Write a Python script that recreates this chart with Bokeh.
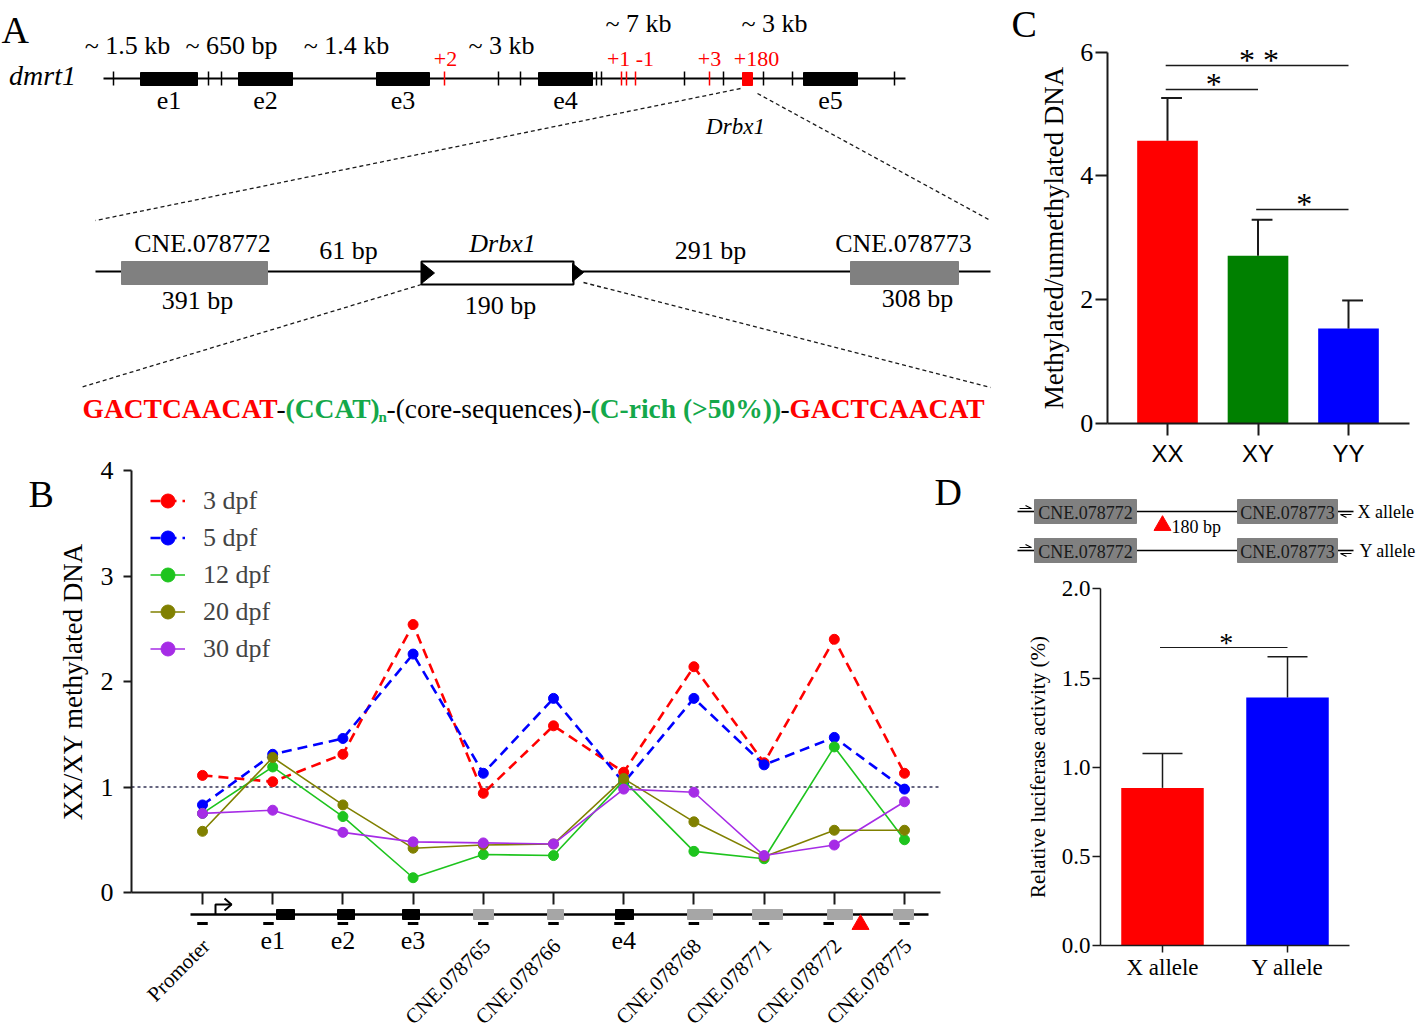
import math
from bokeh.plotting import figure
from bokeh.models import (Range1d, LinearAxis, FixedTicker, Legend, LegendItem,
                          PrintfTickFormatter, CustomJSTickFormatter)
from bokeh.layouts import row, column
from bokeh.core.properties import value
from bokeh.embed import file_html
from bokeh.resources import INLINE

# ---------------- data ----------------
B_sites = ["Promoter", "e1", "e2", "e3", "CNE.078765", "CNE.078766", "e4",
           "CNE.078768", "CNE.078771", "CNE.078772", "CNE.078775"]
B_series = ["3 dpf", "5 dpf", "12 dpf", "20 dpf", "30 dpf"]
dpf3 = [1.11, 1.05, 1.31, 2.54, 0.94, 1.58, 1.14, 2.14, 1.23, 2.40, 1.13]
dpf5 = [0.83, 1.31, 1.46, 2.26, 1.13, 1.84, 1.04, 1.84, 1.21, 1.47, 0.98]
dpf12 = [0.75, 1.19, 0.72, 0.14, 0.36, 0.35, 1.06, 0.39, 0.32, 1.38, 0.50]
dpf20 = [0.58, 1.28, 0.83, 0.42, 0.45, 0.46, 1.08, 0.67, 0.34, 0.59, 0.59]
dpf30 = [0.75, 0.78, 0.57, 0.48, 0.47, 0.46, 0.98, 0.95, 0.35, 0.45, 0.86]
B_ticks = [0, 1, 2, 3, 4]
B_ref = 1.0

C_groups = ["XX", "XY", "YY"]
C_mean = [4.57, 2.71, 1.53]
C_sem = [0.69, 0.58, 0.455]
C_ticks = [0, 2, 4, 6]
C_sig = [("XX", "XY", "*"), ("XX", "YY", "**"), ("XY", "YY", "*")]

D_groups = ["X allele", "Y allele"]
D_mean = [0.884, 1.391]
D_sem = [0.193, 0.228]
D_ticks = [0, 0.5, 1.0, 1.5, 2.0]
D_sig = [("X allele", "Y allele", "*")]

# ---------------- styles / helpers ----------------
SERIF = "Liberation Serif"
SANS = "Liberation Sans"
INK = "#1a1a1a"
RED = "#FF0000"
BLUE = "#0000FF"
GREEN_BAR = "#008000"
SEQ_GREEN = "#14A84A"

LEFT_W, RIGHT_W = 1008, 408
A_H, B_H = 440, 592
C_H, D_H = 478, 554


def canvas(w, h, xr, yr):
    p = figure(width=w, height=h, x_range=Range1d(*xr), y_range=Range1d(*yr),
               output_backend="svg", toolbar_location=None,
               x_axis_type=None, y_axis_type=None, min_border=0)
    p.outline_line_color = None
    return p


def txt(p, x, y, s, size, color="black", align="center", baseline="middle",
        style="normal", font=SERIF, angle=0.0):
    p.text(x=[x], y=[y], text=[s], text_font=value(font),
           text_font_size=value(f"{size}px"), text_color=color,
           text_align=value(align), text_baseline=value(baseline),
           text_font_style=value(style), angle=angle)


def make_axis(fixed, bounds, ticks, lw, tick_out, lab_size, standoff,
              font=SERIF, label=None, label_size=None, label_standoff=0,
              overrides=None, formatter=None):
    ax = LinearAxis(fixed_location=fixed, bounds=bounds,
                    ticker=FixedTicker(ticks=ticks))
    ax.axis_line_width = lw
    ax.axis_line_color = INK
    ax.major_tick_line_width = lw
    ax.major_tick_line_color = INK
    ax.major_tick_out = tick_out
    ax.major_tick_in = 0
    ax.minor_tick_out = 0
    ax.minor_tick_in = 0
    ax.major_label_text_font = font
    ax.major_label_text_font_size = f"{lab_size}px"
    ax.major_label_text_color = "black"
    ax.major_label_standoff = standoff
    if overrides is not None:
        ax.major_label_overrides = overrides
    if formatter is not None:
        ax.formatter = formatter
    if label:
        ax.axis_label = label
        ax.axis_label_text_font = SERIF
        ax.axis_label_text_font_size = f"{label_size}px"
        ax.axis_label_text_font_style = "normal"
        ax.axis_label_text_color = "black"
        ax.axis_label_standoff = label_standoff
    return ax


# ================= Panel A (diagram, page-pixel coordinates) =================
pA = canvas(LEFT_W, A_H, (0, LEFT_W), (A_H, 0))
A_exons = [("e1", 140, 197), ("e2", 238, 292), ("e3", 376, 429),
           ("e4", 538, 592), ("e5", 803, 857)]
A_ticks_black = [113, 208, 221, 498, 520, 596, 601, 684, 723, 763, 792, 894]
A_ticks_red = [444, 621, 626, 635, 709]
A_dist = [("~ 1.5 kb", 127, 45), ("~ 650 bp", 231, 45), ("~ 1.4 kb", 346, 45),
          ("~ 3 kb", 501, 45), ("~ 7 kb", 638, 23), ("~ 3 kb", 774, 23)]
A_red_labels = [("+2", 445, 58), ("+1 -1", 630, 58), ("+3", 709, 58), ("+180", 756, 58)]

txt(pA, 1, 29, "A", 38, align="left")
txt(pA, 42, 75, "dmrt1", 28, style="italic")
pA.segment(x0=[103], y0=[78], x1=[905], y1=[78], line_color="black", line_width=2)
pA.quad(left=[e[1] for e in A_exons], right=[e[2] for e in A_exons],
        top=[72] * 5, bottom=[85] * 5, fill_color="black", line_color="black")
pA.segment(x0=A_ticks_black, y0=[71] * len(A_ticks_black), x1=A_ticks_black,
           y1=[85] * len(A_ticks_black), line_color="black", line_width=1.5)
pA.segment(x0=A_ticks_red, y0=[71] * len(A_ticks_red), x1=A_ticks_red,
           y1=[85] * len(A_ticks_red), line_color=RED, line_width=1.5)
pA.quad(left=[742], right=[752], top=[72], bottom=[85], fill_color=RED, line_color=RED)
for name, l, r in A_exons:
    txt(pA, (l + r) / 2, 100, name, 26)
for s, x, y in A_dist:
    txt(pA, x, y, s, 26)
for s, x, y in A_red_labels:
    txt(pA, x, y, s, 22, color=RED)
txt(pA, 735, 126, "Drbx1", 23, style="italic")
# zoom dashed lines
pA.segment(x0=[740, 757, 421, 583], y0=[88, 93, 284, 282],
           x1=[95, 990, 80, 990], y1=[220, 220, 387, 387],
           line_color=INK, line_width=1.3, line_dash="4 3")
# second row
pA.segment(x0=[95], y0=[271], x1=[990], y1=[271], line_color="black", line_width=2)
pA.quad(left=[121, 850], right=[267, 958], top=[261, 261], bottom=[284, 284],
        fill_color="#808080", line_color="#808080")
pA.quad(left=[421], right=[573], top=[261], bottom=[284], fill_color="white",
        line_color="black", line_width=2)
pA.patches(xs=[[421, 434, 421], [572, 583, 572]], ys=[[262, 272.5, 283], [263, 272, 281]],
           fill_color="black", line_color="black")
txt(pA, 202, 243, "CNE.078772", 26)
txt(pA, 197, 300, "391 bp", 26)
txt(pA, 348, 250, "61 bp", 26)
txt(pA, 502, 243, "Drbx1", 26, style="italic")
txt(pA, 500, 305, "190 bp", 26)
txt(pA, 710, 250, "291 bp", 26)
txt(pA, 903, 243, "CNE.078773", 26)
txt(pA, 917, 298, "308 bp", 26)
# motif sequence
seq_parts = [(82, "GACTCAACAT", RED, "bold"), (276, "-", "black", "normal"),
             (285, "(CCAT)", SEQ_GREEN, "bold"), (386, "-(core-sequences)-", "black", "normal"),
             (590, "(C-rich (>50%))", SEQ_GREEN, "bold"), (780, "-", "black", "normal"),
             (789, "GACTCAACAT", RED, "bold")]
for x, s, c, st in seq_parts:
    txt(pA, x, 408, s, 27.5, color=c, align="left", style=st)
txt(pA, 378, 416, "n", 15, color=SEQ_GREEN, align="left", style="bold")

# ================= Panel B (line chart) =================
def bx(r):
    return (r - 202) / 70.2


def by(r):
    return (892 - r) / 105.5


pB = canvas(LEFT_W, B_H, (bx(0), bx(LEFT_W)), (by(A_H + B_H), by(A_H)))
xs = list(range(len(B_sites)))
yax = make_axis(bx(131), (0, 4), B_ticks, 2, 8, 26, 10,
                label="XX/XY methylated DNA", label_size=27, label_standoff=10)
pB.add_layout(yax, "left")
xax = make_axis(0, (bx(131), bx(940)), xs, 2, 12, 10, 2,
                formatter=CustomJSTickFormatter(code="return ''"))
pB.add_layout(xax, "below")

pB.segment(x0=[bx(131)], y0=[B_ref], x1=[bx(940)], y1=[B_ref],
           line_color="#333355", line_width=1.5, line_dash="3 3")

series = [(B_series[0], dpf3, RED, True), (B_series[1], dpf5, BLUE, True),
          (B_series[2], dpf12, "#1EC41E", False), (B_series[3], dpf20, "#808000", False),
          (B_series[4], dpf30, "#A62CE6", False)]
items = []
for name, ys, col, dashed in series:
    lr = pB.line(x=xs, y=ys, line_color=col, line_width=2.6 if dashed else 1.6,
                 line_dash="10 6" if dashed else "solid")
    sr = pB.scatter(x=xs, y=ys, size=10, fill_color=col, line_color=col)
    items.append(LegendItem(label=name, renderers=[lr, sr]))
leg = Legend(items=items, location=(150, A_H + B_H - 667), glyph_width=35, glyph_height=37,
             label_height=37, spacing=0, padding=0, margin=0, label_standoff=18,
             border_line_color=None, background_fill_alpha=0,
             label_text_font=SERIF, label_text_font_size="26px")
pB.add_layout(leg)

# gene schematic beneath the axis
g_y = by(914)
pB.segment(x0=[bx(190)], y0=[g_y], x1=[bx(928)], y1=[g_y], line_color="black", line_width=2.5)
sch_boxes = [(276, 294, "black"), (337, 354, "black"), (402, 419, "black"),
             (473, 493, "#A6A6A6"), (547, 563, "#A6A6A6"), (615, 633, "black"),
             (687, 712, "#A6A6A6"), (752, 782, "#A6A6A6"), (827, 852, "#A6A6A6"),
             (893, 913, "#A6A6A6")]
pB.quad(left=[bx(b[0]) for b in sch_boxes], right=[bx(b[1]) for b in sch_boxes],
        top=[by(909)] * len(sch_boxes), bottom=[by(919)] * len(sch_boxes),
        fill_color=[b[2] for b in sch_boxes], line_color=[b[2] for b in sch_boxes])
primer_off = [0, -0.06, 0, 0, 0, 0, -0.06, 0, 0, -0.08, 0]
pB.segment(x0=[i + o - 0.075 for i, o in zip(xs, primer_off)], y0=[by(923)] * len(xs),
           x1=[i + o + 0.075 for i, o in zip(xs, primer_off)], y1=[by(923)] * len(xs),
           line_color="black", line_width=3)
pB.scatter(x=[bx(860)], y=[by(924)], marker="triangle", size=17,
           fill_color=RED, line_color=RED)
pB.multi_line(xs=[[bx(215), bx(215), bx(231)], [bx(224), bx(231), bx(224)]],
              ys=[[by(914), by(904), by(904)], [by(898), by(904), by(910)]],
              line_color="black", line_width=2)
for i, s in enumerate(B_sites):
    if len(s) <= 2:
        txt(pB, i, by(940), s, 26)
    else:
        txt(pB, i + 0.05, by(942), s, 21, align="right", angle=math.pi / 4)
txt(pB, bx(28), by(493), "B", 38, align="left")
txt(pB, bx(934), by(491), "D", 38, align="left")

# ================= Panel C (bar chart) =================
def cx(r):
    return (r - 1167) / 90.5


def cy(r):
    return (422.7 - r) / 61.83


pC = canvas(RIGHT_W, C_H, (cx(LEFT_W), cx(LEFT_W + RIGHT_W)), (cy(C_H), cy(0)))
cxs = list(range(len(C_groups)))
pC.vbar(x=cxs, top=C_mean, width=0.67, fill_color=[RED, GREEN_BAR, BLUE], line_color=None)
tops = [m + e for m, e in zip(C_mean, C_sem)]
pC.segment(x0=cxs, y0=C_mean, x1=cxs, y1=tops, line_color=INK, line_width=2)
pC.segment(x0=[x - 0.07 for x in cxs], y0=tops, x1=[x + 0.16 for x in cxs], y1=tops,
           line_color=INK, line_width=2)
ycax = make_axis(cx(1106.7), (0, 6), C_ticks, 2, 12, 26, 2,
                 label="Methylated/unmethylated DNA", label_size=27, label_standoff=9)
pC.add_layout(ycax, "left")
xcax = make_axis(0, (cx(1106.7), cx(1409)), cxs, 2, 12, 24, 5, font=SANS,
                 overrides={i: g for i, g in enumerate(C_groups)})
pC.add_layout(xcax, "below")
sig_y_C = [cy(89), cy(65), cy(209)]
for (a, b, star), yl in zip(C_sig, sig_y_C):
    ia, ib = C_groups.index(a), C_groups.index(b)
    pC.segment(x0=[ia - 0.02], y0=[yl], x1=[ib + 0.0], y1=[yl], line_color=INK, line_width=1.5)
    txt(pC, (ia + ib) / 2 + 0.01, yl + 6 / 61.83, " ".join(star), 32, baseline="alphabetic")
txt(pC, cx(1011), cy(23), "C", 38, align="left")

# ================= Panel D (diagram + bar chart) =================
def dx(r):
    return (r - 1162) / 125


def dy(r):
    return (945 - r) / 178.3


pD = canvas(RIGHT_W, D_H, (dx(LEFT_W), dx(LEFT_W + RIGHT_W)), (dy(C_H + D_H), dy(C_H)))
dxs = list(range(len(D_groups)))
pD.vbar(x=dxs, top=D_mean, width=0.66, fill_color=[RED, BLUE], line_color=None)
dtops = [m + e for m, e in zip(D_mean, D_sem)]
pD.segment(x0=dxs, y0=D_mean, x1=dxs, y1=dtops, line_color=INK, line_width=1.5)
pD.segment(x0=[x - 0.16 for x in dxs], y0=dtops, x1=[x + 0.16 for x in dxs], y1=dtops,
           line_color=INK, line_width=1.5)
ydax = make_axis(dx(1100), (0, 2), D_ticks, 1.5, 8, 23, 2,
                 label="Relative luciferase activity (%)", label_size=21, label_standoff=9,
                 formatter=PrintfTickFormatter(format="%.1f"))
pD.add_layout(ydax, "left")
xdax = make_axis(0, (dx(1100), dx(1349)), dxs, 1.5, 7, 23, 2,
                 overrides={i: g for i, g in enumerate(D_groups)})
pD.add_layout(xdax, "below")
for a, b, star in D_sig:
    ia, ib = D_groups.index(a), D_groups.index(b)
    yl = dy(647)
    pD.segment(x0=[ia - 0.02], y0=[yl], x1=[ib - 0.0], y1=[yl], line_color=INK, line_width=1.2)
    txt(pD, (ia + ib) / 2 + 0.01, yl + 5 / 178.3, star, 28, baseline="alphabetic")

# allele construct schematic
for row_y, lab, lab_x in [(511, "X allele", 1357), (550, "Y allele", 1359)]:
    pD.segment(x0=[dx(1017), dx(1136), dx(1337)], y0=[dy(row_y)] * 3,
               x1=[dx(1034), dx(1237), dx(1353)], y1=[dy(row_y)] * 3,
               line_color="black", line_width=1.6)
    pD.quad(left=[dx(1034), dx(1237)], right=[dx(1136), dx(1337)],
            top=[dy(row_y - 12)] * 2, bottom=[dy(row_y + 12)] * 2,
            fill_color="#808080", line_color="#808080")
    txt(pD, dx(1085), dy(row_y + 1), "CNE.078772", 18, color="#1a1a1a")
    txt(pD, dx(1287), dy(row_y + 1), "CNE.078773", 18, color="#1a1a1a")
    txt(pD, dx(lab_x), dy(row_y), lab, 18, align="left")
    pD.multi_line(xs=[[dx(1019), dx(1031), dx(1025)], [dx(1351), dx(1340), dx(1346)]],
                  ys=[[dy(row_y - 3), dy(row_y - 3), dy(row_y - 6)],
                      [dy(row_y + 3), dy(row_y + 3), dy(row_y + 6)]],
                  line_color="black", line_width=1.2)
pD.scatter(x=[dx(1162)], y=[dy(525)], marker="triangle", size=17, fill_color=RED, line_color=RED)
txt(pD, dx(1171), dy(526), "180 bp", 18, align="left")

layout = row(column(pA, pB), column(pC, pD))
open("out.html", "w").write(file_html(layout, INLINE))
